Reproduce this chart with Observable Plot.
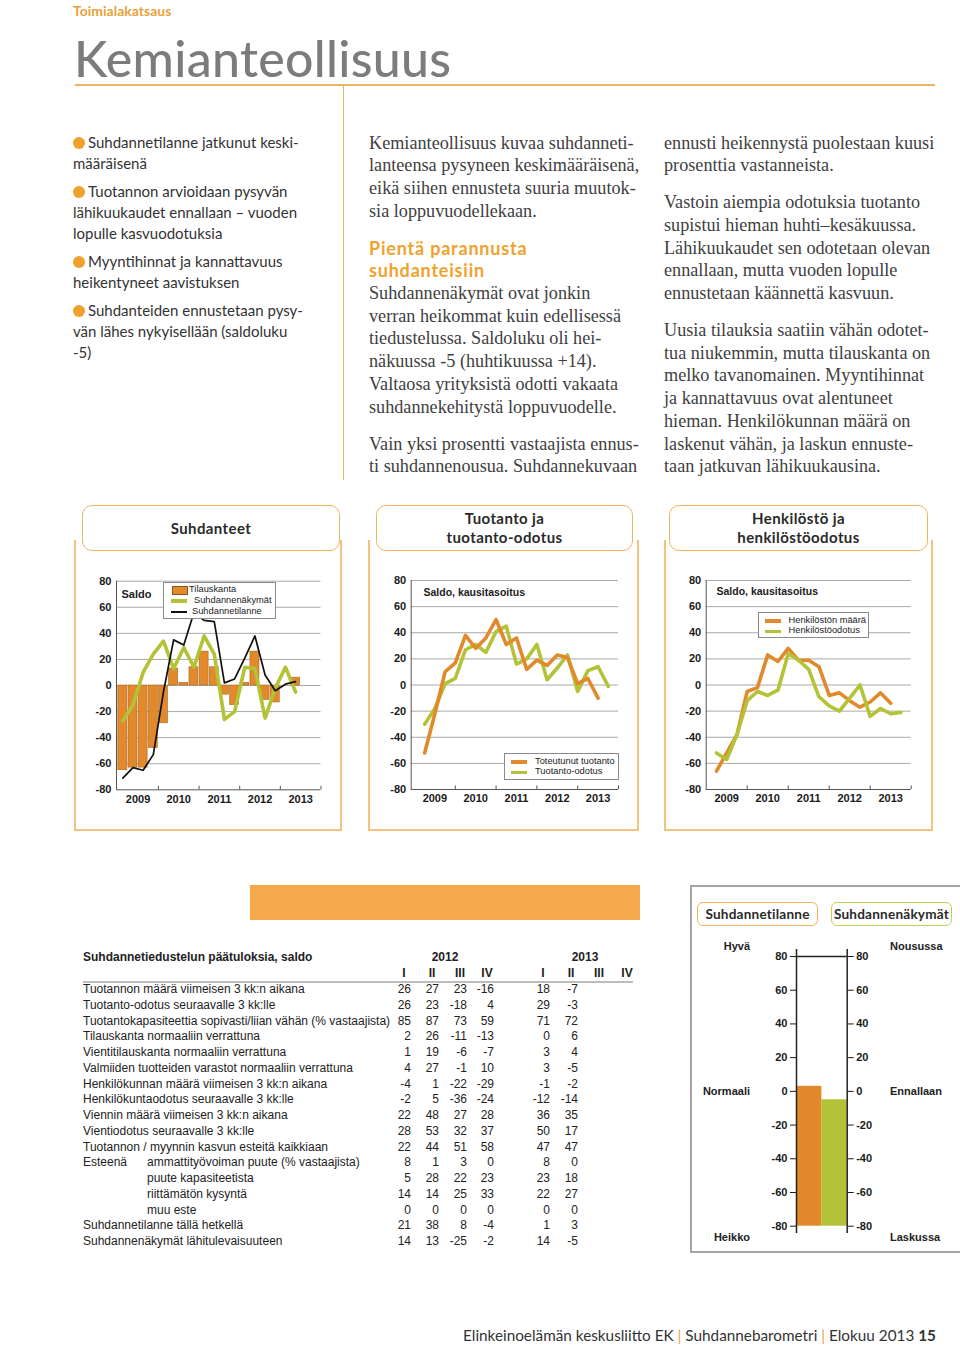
<!DOCTYPE html>
<html><head><meta charset="utf-8">
<script src="https://cdn.jsdelivr.net/npm/d3@7"></script>
<script src="https://cdn.jsdelivr.net/npm/@observablehq/plot@0.6"></script>
<style>
body{margin:0;background:#fff;}
#page{position:relative;width:960px;height:1347px;overflow:hidden;font-family:"Liberation Sans",Arial,sans-serif;color:#222;}
.a{position:absolute;white-space:nowrap;}
.lato{font-family:Lato,"Noto Sans",sans-serif;}
.serif{font-family:"Liberation Serif","Times New Roman",serif;}
.dot{display:inline-block;width:12px;height:12px;border-radius:50%;background:#f0a02c;vertical-align:-1px;margin-right:3px;}
.pill{position:absolute;border:1.5px solid #f1b35c;border-radius:10px;background:#fff;box-sizing:border-box;display:flex;align-items:center;justify-content:center;text-align:center;font-family:Lato,sans-serif;font-weight:bold;font-size:15px;letter-spacing:0.4px;line-height:19px;color:#2a2a2a;}
.leg{position:absolute;background:#fff;border:1px solid #8a8a8a;box-sizing:border-box;font-size:9.3px;color:#222;}
.vl{position:absolute;width:1.5px;background:#f3c27e;}
.hl{position:absolute;height:1.5px;background:#f3c27e;}
</style></head><body><div id="page"></div>
<script>
// ---------- data ----------
const years = [2009, 2010, 2011, 2012, 2013];
const yTicks = [-80, -60, -40, -20, 0, 20, 40, 60, 80];
// Suhdanteet (quarterly from 2009 I)
const tilauskanta = [-65, -63, -63, -48, -29, 13, 2, 14, 26, 14, -7, -15, 2, 26, -11, -13, 0, 6];
const suhdannenakymat = [-27, -15, 10, 24, 34, 13, 29, 14, 38, 24, -26, -20, 14, 13, -25, -2, 14, -5];
const suhdannetilanne = [-71, -63, -65, -53, -5, 35, 31, 56, 50, 49, 2, 5, 21, 38, 8, -4, 1, 3];
// Tuotanto ja tuotanto-odotus
const toteutunutTuotanto = [-52, -22, 10, 17, 38, 28, 36, 50, 31, 36, 12, 19, 15, 23, 21, 1, 5, -10];
const tuotantoOdotus = [-30, -18, 1, 5, 27, 31, 25, 41, 45, 16, 20, 31, 4, 13, 23, -5, 11, 14, -1];
// Henkilöstö ja henkilöstöodotus
const henkilostonMaara = [-66, -52, -38, -5, -2, 23, 18, 28, 19, 19, 14, -8, -6, -12, -17, -13, -6, -14];
const henkilostoodotus = [-52, -57, -38, -12, -5, -8, -4, 24, 19, 12, -9, -16, -20, -10, 0, -24, -18, -22, -21];
// Gauge (2013 II)
const gaugeLabels = ["Suhdannetilanne", "Suhdannenäkymät"];
const gaugeValues = [3, -5];
// Table
const tableYears = ["2012", "2013"];
const quarterLabels = ["I", "II", "III", "IV"];
const rowLabels = ["Tuotannon määrä viimeisen 3 kk:n aikana", "Tuotanto-odotus seuraavalle 3 kk:lle",
  "Tuotantokapasiteettia sopivasti/liian vähän (% vastaajista)", "Tilauskanta normaaliin verrattuna",
  "Vientitilauskanta normaaliin verrattuna", "Valmiiden tuotteiden varastot normaaliin verrattuna",
  "Henkilökunnan määrä viimeisen 3 kk:n aikana", "Henkilökuntaodotus seuraavalle 3 kk:lle",
  "Viennin määrä viimeisen 3 kk:n aikana", "Vientiodotus seuraavalle 3 kk:lle",
  "Tuotannon / myynnin kasvun esteitä kaikkiaan", "Esteenä", "", "", "",
  "Suhdannetilanne tällä hetkellä", "Suhdannenäkymät lähitulevaisuuteen"];
const rowSubLabels = ["", "", "", "", "", "", "", "", "", "", "",
  "ammattityövoiman puute (% vastaajista)", "puute kapasiteetista", "riittämätön kysyntä", "muu este", "", ""];
const values2012 = [[26,27,23,-16],[26,23,-18,4],[85,87,73,59],[2,26,-11,-13],[1,19,-6,-7],[4,27,-1,10],
  [-4,1,-22,-29],[-2,5,-36,-24],[22,48,27,28],[28,53,32,37],[22,44,51,58],[8,1,3,0],[5,28,22,23],
  [14,14,25,33],[0,0,0,0],[21,38,8,-4],[14,13,-25,-2]];
const values2013 = [[18,-7],[29,-3],[71,72],[0,6],[3,4],[3,-5],[-1,-2],[-12,-14],[36,35],[50,17],[47,47],
  [8,0],[23,18],[22,27],[0,0],[1,3],[14,-5]];

// ---------- helpers ----------
const ORANGE = "#e2892c", GREEN = "#b3c236";
const page = document.getElementById("page");
function add(html){ page.insertAdjacentHTML("beforeend", html); }
function place(el, left, top){ el.style.position = "absolute"; el.style.left = left + "px"; el.style.top = top + "px"; page.appendChild(el); return el; }
const quarters = (arr) => arr.map((v, i) => ({s: 2009 + i / 4, e: 2009 + (i + 1) / 4, m: 2009 + (i + 0.5) / 4, v}));
const chartStyle = {fontFamily: '"Liberation Sans", Arial, sans-serif', fontSize: "11px", color: "#1a1a1a", background: "transparent", overflow: "visible"};
const hyphen = d => String(d);

function frameMarks(){
  return [Plot.ruleY(yTicks.filter(d => d > -80), {stroke: "#a9a9a9", strokeWidth: 1})];
}
function axisMarks(x0){
  return [
    Plot.ruleX([x0], {stroke: "#555", strokeWidth: 1}),
    Plot.ruleY([-80], {stroke: "#555", strokeWidth: 1}),
    Plot.ruleX(years.slice(1).concat([2014]), {y1: -80, y2: -77.3, stroke: "#555"}),
    Plot.axisY({ticks: yTicks, tickSize: 0, tickPadding: 5, tickFormat: hyphen, fontWeight: "bold", label: null}),
    Plot.axisX({ticks: years.map(y => y + 0.5), tickSize: 0, tickPadding: 5, tickFormat: d => String(Math.floor(d)), fontWeight: "bold", label: null})
  ];
}

// ---------- static text ----------
add(`<div class="a lato" style="left:73px;top:2px;font-size:14px;font-weight:bold;color:#e9a23b;">Toimialakatsaus</div>`);
add(`<div class="a lato" style="left:74px;top:32.5px;font-size:50px;line-height:50px;font-weight:500;color:#7c7c7c;letter-spacing:0.3px;">Kemianteollisuus</div>`);
add(`<div class="a" style="left:75px;top:84px;width:860px;height:1.5px;background:#eab461;"></div>`);
add(`<div class="a" style="left:342.5px;top:85px;width:1.5px;height:395px;background:#eab461;"></div>`);

add(`<div class="a lato" style="left:73px;top:132px;font-size:15px;line-height:21px;color:#333;">
<div><span class="dot"></span>Suhdannetilanne jatkunut keski-<br>määräisenä</div>
<div style="margin-top:7px"><span class="dot"></span>Tuotannon arvioidaan pysyvän<br>lähikuukaudet ennallaan – vuoden<br>lopulle kasvuodotuksia</div>
<div style="margin-top:7px"><span class="dot"></span>Myyntihinnat ja kannattavuus<br>heikentyneet aavistuksen</div>
<div style="margin-top:7px"><span class="dot"></span>Suhdanteiden ennustetaan pysy-<br>vän lähes nykyisellään (saldoluku<br>-5)</div>
</div>`);

add(`<div class="a serif" style="left:369px;top:131.5px;font-size:18.2px;line-height:22.7px;color:#404040;">
<div>Kemianteollisuus kuvaa suhdanneti-<br>lanteensa pysyneen keskimääräisenä,<br>eikä siihen ennusteta suuria muutok-<br>sia loppuvuodellekaan.</div>
<div class="lato" style="margin-top:14.3px;font-weight:bold;color:#f0a22e;font-size:18px;letter-spacing:0.8px;">Pientä parannusta<br>suhdanteisiin</div>
<div>Suhdannenäkymät ovat jonkin<br>verran heikommat kuin edellisessä<br>tiedustelussa. Saldoluku oli hei-<br>näkuussa -5 (huhtikuussa +14).<br>Valtaosa yrityksistä odotti vakaata<br>suhdannekehitystä loppuvuodelle.</div>
<div style="margin-top:14.3px">Vain yksi prosentti vastaajista ennus-<br>ti suhdannenousua. Suhdannekuvaan</div>
</div>`);

add(`<div class="a serif" style="left:664px;top:131.5px;font-size:18.2px;line-height:22.7px;color:#404040;">
<div>ennusti heikennystä puolestaan kuusi<br>prosenttia vastanneista.</div>
<div style="margin-top:14.3px">Vastoin aiempia odotuksia tuotanto<br>supistui hieman huhti–kesäkuussa.<br>Lähikuukaudet sen odotetaan olevan<br>ennallaan, mutta vuoden lopulle<br>ennustetaan käännettä kasvuun.</div>
<div style="margin-top:14.3px">Uusia tilauksia saatiin vähän odotet-<br>tua niukemmin, mutta tilauskanta on<br>melko tavanomainen. Myyntihinnat<br>ja kannattavuus ovat alentuneet<br>hieman. Henkilökunnan määrä on<br>laskenut vähän, ja laskun ennuste-<br>taan jatkuvan lähikuukausina.</div>
</div>`);

// panel frames
[[74, 340], [368, 637], [664, 931]].forEach(([l, r]) => {
  add(`<div class="vl" style="left:${l}px;top:540px;height:290px;"></div>`);
  add(`<div class="vl" style="left:${r}px;top:540px;height:290px;"></div>`);
  add(`<div class="hl" style="left:${l}px;top:829px;width:${r - l + 1.5}px;"></div>`);
});
add(`<div class="pill" style="left:82px;top:505px;width:258px;height:46px;">Suhdanteet</div>`);
add(`<div class="pill" style="left:376px;top:505px;width:257px;height:46px;">Tuotanto ja<br>tuotanto-odotus</div>`);
add(`<div class="pill" style="left:669px;top:505px;width:259px;height:46px;">Henkilöstö ja<br>henkilöstöodotus</div>`);

// ---------- chart 1 ----------
const c1 = Plot.plot({
  width: 265, height: 250, marginLeft: 41, marginRight: 19.5, marginTop: 20.7, marginBottom: 20.7,
  x: {domain: [2008.97, 2014]}, y: {domain: [-80, 80]}, style: chartStyle,
  marks: [
    ...frameMarks(),
    Plot.rectY(quarters(tilauskanta), {x1: "s", x2: "e", y: "v", fill: ORANGE, stroke: "#a8661f", strokeWidth: 0.6, insetLeft: 0.6, insetRight: 0.6}),
    Plot.line(quarters(suhdannenakymat), {x: "m", y: "v", stroke: GREEN, strokeWidth: 3.6}),
    Plot.line(quarters(suhdannetilanne), {x: "m", y: "v", stroke: "#111", strokeWidth: 1.7}),
    ...axisMarks(2008.97)
  ]
});
place(c1, 75, 560);

// ---------- chart 2 ----------
const c2 = Plot.plot({
  width: 270, height: 250, marginLeft: 40.7, marginRight: 22, marginTop: 20, marginBottom: 21,
  x: {domain: [2008.92, 2014]}, y: {domain: [-80, 80]}, style: chartStyle,
  marks: [
    ...frameMarks(),
    Plot.line(quarters(tuotantoOdotus), {x: "e", y: "v", stroke: GREEN, strokeWidth: 3.6}),
    Plot.line(quarters(toteutunutTuotanto), {x: "e", y: "v", stroke: ORANGE, strokeWidth: 3.6}),
    ...axisMarks(2008.92)
  ]
});
place(c2, 370, 560);

// ---------- chart 3 ----------
const c3 = Plot.plot({
  width: 270, height: 250, marginLeft: 40.7, marginRight: 24.3, marginTop: 20, marginBottom: 21,
  x: {domain: [2009, 2014]}, y: {domain: [-80, 80]}, style: chartStyle,
  marks: [
    ...frameMarks(),
    Plot.line(quarters(henkilostonMaara), {x: "e", y: "v", stroke: ORANGE, strokeWidth: 3.6}),
    Plot.line(quarters(henkilostoodotus), {x: "e", y: "v", stroke: GREEN, strokeWidth: 3.6}),
    ...axisMarks(2009)
  ]
});
place(c3, 665, 560);

// chart labels & legends
add(`<div class="a" style="left:121.5px;top:587.5px;font-size:11px;font-weight:bold;">Saldo</div>`);
add(`<div class="leg" style="left:162.5px;top:581.5px;width:113px;height:37px;">
<div class="a" style="left:8px;top:3.5px;width:14px;height:6.5px;background:${ORANGE};border:0.8px solid #8a5518;"></div>
<div class="a" style="left:25.5px;top:1px;">Tilauskanta</div>
<div class="a" style="left:7px;top:16.5px;width:16px;height:3.6px;background:${GREEN};"></div>
<div class="a" style="left:30.5px;top:12.5px;">Suhdannenäkymät</div>
<div class="a" style="left:7px;top:28.5px;width:16px;height:1.7px;background:#111;"></div>
<div class="a" style="left:28.5px;top:23.5px;">Suhdannetilanne</div>
</div>`);
add(`<div class="a" style="left:423.5px;top:585.5px;font-size:10.5px;font-weight:bold;">Saldo, kausitasoitus</div>`);
add(`<div class="leg" style="left:503.5px;top:752.5px;width:115px;height:27.5px;">
<div class="a" style="left:6.5px;top:6.5px;width:16px;height:3.6px;background:${ORANGE};"></div>
<div class="a" style="left:30.5px;top:2px;">Toteutunut tuotanto</div>
<div class="a" style="left:6.5px;top:17px;width:16px;height:3.6px;background:${GREEN};"></div>
<div class="a" style="left:30.5px;top:12.5px;">Tuotanto-odotus</div>
</div>`);
add(`<div class="a" style="left:716.5px;top:585px;font-size:10.5px;font-weight:bold;">Saldo, kausitasoitus</div>`);
add(`<div class="leg" style="left:757.5px;top:611.5px;width:111.5px;height:26.5px;">
<div class="a" style="left:6.5px;top:6.5px;width:16px;height:3.6px;background:${ORANGE};"></div>
<div class="a" style="left:30px;top:2px;">Henkilöstön määrä</div>
<div class="a" style="left:6.5px;top:17px;width:16px;height:3.6px;background:${GREEN};"></div>
<div class="a" style="left:30px;top:12.5px;">Henkilöstöodotus</div>
</div>`);

// ---------- bottom section ----------
add(`<div class="a" style="left:250px;top:885px;width:390px;height:35px;background:#f6a84d;"></div>`);
add(`<div class="a" style="left:690px;top:885px;width:280px;height:368px;border:2px solid #a5a5a5;box-sizing:border-box;"></div>`);
add(`<div class="pill" style="left:697px;top:902px;width:121px;height:24px;font-size:13.6px;letter-spacing:0.2px;border-radius:6px;">Suhdannetilanne</div>`);
add(`<div class="pill" style="left:831px;top:902px;width:121px;height:24px;font-size:13.6px;letter-spacing:0.2px;border-radius:6px;border-color:#c4cf58;">Suhdannenäkymät</div>`);

const gaugeData = gaugeLabels.map((k, i) => ({k, i, v: gaugeValues[i]}));
const g = Plot.plot({
  width: 270, height: 370, marginLeft: 106, marginRight: 113.3, marginTop: 71, marginBottom: 29.3,
  x: {domain: [0, 2], axis: null}, y: {domain: [-80, 80]}, style: chartStyle,
  marks: [
    Plot.rectY(gaugeData.filter(d => d.i === 0), {x1: "i", x2: d => d.i + 1, y1: -80, y2: "v", fill: ORANGE}),
    Plot.rectY(gaugeData.filter(d => d.i === 1), {x1: "i", x2: d => d.i + 1, y1: -80, y2: "v", fill: GREEN}),
    Plot.ruleY([80], {stroke: "#222", strokeWidth: 1.3}),
    Plot.ruleX([0, 2], {y1: -84.3, y2: 84.2, stroke: "#222", strokeWidth: 1.5}),
    Plot.axisY({anchor: "left", ticks: yTicks, tickSize: 6, tickPadding: 3, tickFormat: hyphen, fontWeight: "bold", label: null}),
    Plot.axisY({anchor: "right", ticks: yTicks, tickSize: 6, tickPadding: 3, tickFormat: hyphen, fontWeight: "bold", label: null})
  ]
});
place(g, 690, 885);
const gl = (txt, x, y, align) => add(`<div class="a" style="${align === "r" ? `right:${960 - x}px` : `left:${x}px`};top:${y - 7}px;font-size:11px;font-weight:bold;">${txt}</div>`);
gl("Hyvä", 750, 947, "r"); gl("Normaali", 750, 1092, "r"); gl("Heikko", 750, 1238, "r");
gl("Nousussa", 890, 947, "l"); gl("Ennallaan", 890, 1092, "l"); gl("Laskussa", 890, 1238, "l");

// table
add(`<div class="a" style="left:83px;top:950px;font-size:12px;font-weight:bold;">Suhdannetiedustelun päätuloksia, saldo</div>`);
const colCenters2012 = [404, 432, 460, 487], colCenters2013 = [543, 571, 599, 627];
add(`<div class="a" style="left:425px;top:950px;width:40px;text-align:center;font-size:12px;font-weight:bold;">${tableYears[0]}</div>`);
add(`<div class="a" style="left:565px;top:950px;width:40px;text-align:center;font-size:12px;font-weight:bold;">${tableYears[1]}</div>`);
quarterLabels.forEach((q, j) => {
  add(`<div class="a" style="left:${colCenters2012[j] - 15}px;top:966px;width:30px;text-align:center;font-size:12px;font-weight:bold;">${q}</div>`);
  add(`<div class="a" style="left:${colCenters2013[j] - 15}px;top:966px;width:30px;text-align:center;font-size:12px;font-weight:bold;">${q}</div>`);
});
add(`<div class="a" style="left:83px;top:981px;width:550px;height:1.5px;background:#bdbdbd;"></div>`);
rowLabels.forEach((lab, i) => {
  const top = 981 + i * 15.75;
  let h = `<div class="a" style="left:0;top:${top}px;width:960px;height:16px;font-size:12px;line-height:16px;">`;
  if (lab) h += `<span class="a" style="left:83px;top:0;">${lab}</span>`;
  if (rowSubLabels[i]) h += `<span class="a" style="left:147px;top:0;">${rowSubLabels[i]}</span>`;
  values2012[i].forEach((v, j) => { h += `<span class="a" style="right:${960 - colCenters2012[j] - 7}px;top:0;">${v}</span>`; });
  values2013[i].forEach((v, j) => { h += `<span class="a" style="right:${960 - colCenters2013[j] - 7}px;top:0;">${v}</span>`; });
  page.insertAdjacentHTML("beforeend", h + `</div>`);
});

// footer
add(`<div class="a lato" style="left:463px;top:1326px;font-size:15.3px;color:#333;">Elinkeinoelämän keskusliitto EK <span style="color:#e9a23b">|</span> Suhdannebarometri <span style="color:#e9a23b">|</span> Elokuu 2013 <b>15</b></div>`);
</script></body></html>
